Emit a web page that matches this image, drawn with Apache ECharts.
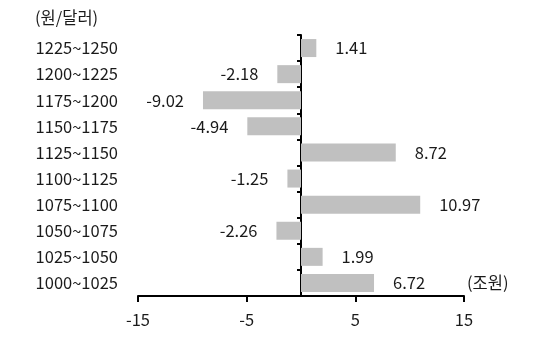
<!DOCTYPE html>
<html>
<head>
<meta charset="utf-8">
<script src="https://cdn.jsdelivr.net/npm/echarts@6/dist/echarts.min.js"></script>
<style>
  html, body { margin: 0; padding: 0; background: #fff; }
  #chart { width: 540px; height: 339px; }
</style>
</head>
<body>
<div id="chart"></div>
<script>
// Exchange-rate bands (KRW per USD), listed top to bottom
const categories = ['1225~1250', '1200~1225', '1175~1200', '1150~1175', '1125~1150',
                    '1100~1125', '1075~1100', '1050~1075', '1025~1050', '1000~1025'];
// Amount per band (trillion KRW)
const values = [1.41, -2.18, -9.02, -4.94, 8.72, -1.25, 10.97, -2.26, 1.99, 6.72];
const xTicks = [-15, -5, 5, 15];
const yUnit = '(원/달러)';
const xUnit = '(조원)';

const font = '"Noto Sans CJK KR", "Noto Sans", sans-serif';
const fs = 16.5;
const chart = echarts.init(document.getElementById('chart'), null, { renderer: 'canvas' });

chart.setOption({
  animation: false,
  backgroundColor: '#ffffff',
  grid: { left: 138, right: 76, top: 35, bottom: 43 },
  xAxis: {
    type: 'value',
    min: xTicks[0],
    max: xTicks[xTicks.length - 1],
    interval: 10,
    axisLine: { show: true, onZero: false, lineStyle: { color: '#000', width: 2 } },
    axisTick: { show: true, length: 6, lineStyle: { color: '#000', width: 2 } },
    splitLine: { show: false },
    axisLabel: { color: '#1a1a1a', fontSize: fs, fontFamily: font, margin: 15 }
  },
  yAxis: [
    {
      // band labels at the left edge
      type: 'category',
      data: categories,
      inverse: true,
      axisLine: { show: false, onZero: false },
      axisTick: { show: false },
      axisLabel: { color: '#1a1a1a', fontSize: fs, fontFamily: font, margin: 20, align: 'right' }
    },
    {
      // zero line with band-boundary ticks
      type: 'category',
      data: categories,
      inverse: true,
      position: 'left',
      axisLine: { show: true, onZero: true, lineStyle: { color: '#000', width: 2 } },
      axisTick: { show: true, length: 4, lineStyle: { color: '#000', width: 2 } },
      axisLabel: { show: false }
    }
  ],
  series: [{
    type: 'bar',
    yAxisIndex: 0,
    barWidth: 18,
    itemStyle: { color: '#c0c0c0' },
    data: values.map(v => ({
      value: v,
      label: {
        show: true,
        position: v >= 0 ? 'right' : 'left',
        distance: 19,
        color: '#1a1a1a',
        fontSize: fs,
        fontFamily: font,
        formatter: p => p.value.toFixed(2)
      }
    }))
  }],
  graphic: [
    {
      type: 'text', left: 35, top: 9,
      style: { text: yUnit, fill: '#1a1a1a', font: fs + 'px ' + font }
    },
    {
      type: 'text', left: 467, top: 274,
      style: { text: xUnit, fill: '#1a1a1a', font: fs + 'px ' + font }
    }
  ]
});
</script>
</body>
</html>
